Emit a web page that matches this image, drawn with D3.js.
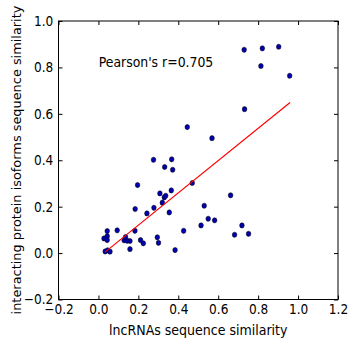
<!DOCTYPE html>
<meta charset="utf-8">
<style>
body { margin: 0; background: #fff; }
text { font-family: "DejaVu Sans", sans-serif; }
.axis path, .axis line { stroke: #000; }
.axis text { font-size: 13.5px; fill: #000; }
</style>
<svg></svg>
<script src="https://d3js.org/d3.v7.min.js"></script>
<script>

// lncRNA similarity (x) vs isoform similarity (y)
var lncSim = [0.034, 0.046, 0.058, 0.028, 0.044, 0.044, 0.044, 0.094, 0.129, 0.136,
              0.144, 0.158, 0.158, 0.183, 0.184, 0.196, 0.211, 0.225, 0.243, 0.278,
              0.295, 0.301, 0.276, 0.308, 0.320, 0.330, 0.337, 0.355, 0.365, 0.332,
              0.367, 0.372, 0.384, 0.427, 0.445, 0.470, 0.514, 0.530, 0.550, 0.569,
              0.582, 0.662, 0.682, 0.719, 0.730, 0.732, 0.752, 0.814, 0.821, 0.903,
              0.958];
var protSim = [0.007, 0.012, 0.006, 0.063, 0.095, 0.073, 0.056, 0.098, 0.055, 0.069,
               0.053, 0.052, 0.017, 0.096, 0.190, 0.293, 0.056, 0.042, 0.171, 0.195,
               0.068, 0.044, 0.402, 0.257, 0.217, 0.240, 0.247, 0.175, 0.270, 0.371,
               0.404, 0.359, 0.013, 0.096, 0.543, 0.302, 0.119, 0.204, 0.148, 0.495,
               0.141, 0.249, 0.079, 0.119, 0.876, 0.620, 0.083, 0.806, 0.882, 0.889,
               0.764];

// fitted line, two ends
var fitX = [0.033, 0.960];
var fitY = [0.004, 0.649];

var xTicks = [-0.2, 0.0, 0.2, 0.4, 0.6, 0.8, 1.0, 1.2];
var yTicks = [-0.2, 0.0, 0.2, 0.4, 0.6, 0.8, 1.0];

var W = 349, H = 343;

var svg = d3.select("svg").attr("width", W).attr("height", H);

var x = d3.scaleLinear().domain([-0.2, 1.2]).range([58.5, 338]);
var y = d3.scaleLinear().domain([-0.2, 1.0]).range([299.5, 21]);

var fmt = function(d) { return d3.format(".1f")(d).replace("-", "\u2212"); };

// bottom
var gx = svg.append("g").attr("class", "axis")
    .attr("transform", "translate(0," + y(-0.2) + ")")
    .call(d3.axisBottom(x).tickValues(xTicks).tickSize(-4).tickPadding(5).tickFormat(fmt));
// left
var gy = svg.append("g").attr("class", "axis")
    .attr("transform", "translate(" + x(-0.2) + ",0)")
    .call(d3.axisLeft(y).tickValues(yTicks).tickSize(-4).tickPadding(5.8).tickFormat(fmt));
// top + right, ticks only
svg.append("g").attr("class", "axis")
    .attr("transform", "translate(0," + y(1.0) + ")")
    .call(d3.axisTop(x).tickValues(xTicks).tickSize(-4).tickFormat(""));
svg.append("g").attr("class", "axis")
    .attr("transform", "translate(" + x(1.2) + ",0)")
    .call(d3.axisRight(y).tickValues(yTicks).tickSize(-4).tickFormat(""));

svg.selectAll(".axis path.domain").attr("d", null);
svg.append("rect")
    .attr("x", x(-0.2)).attr("y", y(1.0))
    .attr("width", x(1.2) - x(-0.2)).attr("height", y(-0.2) - y(1.0))
    .attr("fill", "none").attr("stroke", "#000").attr("stroke-width", 1);

// the picture's text is narrow
gx.selectAll("text").attr("transform", "scale(0.9,1)");
gy.selectAll("text").attr("transform", "scale(0.9,1)");

// points
var pts = lncSim.map(function(v, i) { return [v, protSim[i]]; });
svg.append("g").selectAll("ellipse")
    .data(pts)
    .enter().append("ellipse")
    .attr("cx", function(d) { return x(d[0]); })
    .attr("cy", function(d) { return y(d[1]); })
    .attr("rx", 2.3)
    .attr("ry", 2.6)
    .attr("fill", "#0000b0")
    .attr("stroke", "#000")
    .attr("stroke-width", 0.5);

// fit line
svg.append("line")
    .attr("x1", x(fitX[0])).attr("y1", y(fitY[0]))
    .attr("x2", x(fitX[1])).attr("y2", y(fitY[1]))
    .attr("stroke", "#ff0000")
    .attr("stroke-width", 1.2);

svg.append("text")
    .attr("transform", "translate(98.7,67) scale(0.89,1)")
    .style("font-size", "14px")
    .text("Pearson's r=0.705");

svg.append("text")
    .attr("transform", "translate(198.3,335) scale(0.9,1)")
    .attr("text-anchor", "middle")
    .style("font-size", "14px")
    .text("lncRNAs sequence similarity");

svg.append("text")
    .attr("transform", "translate(21,160) rotate(-90)")
    .attr("text-anchor", "middle")
    .style("font-size", "12.9px")
    .text("interacting protein isoforms sequence similarity");

</script>
